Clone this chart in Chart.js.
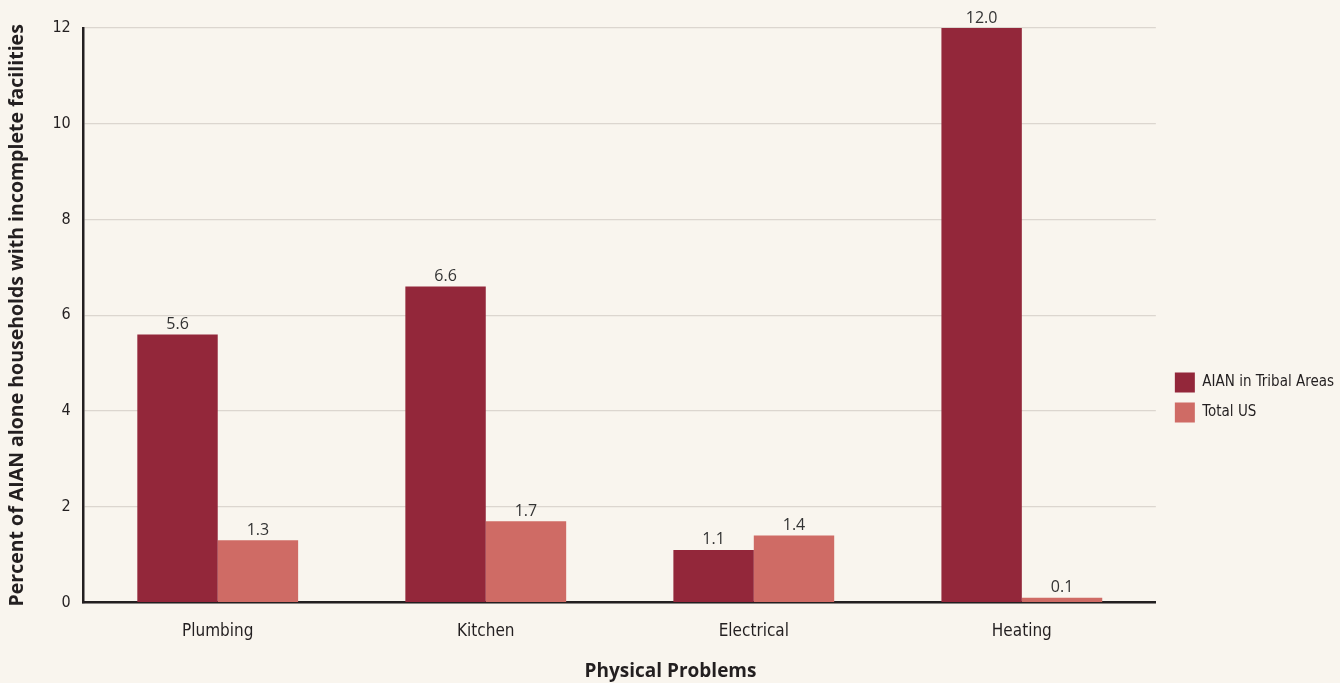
<!DOCTYPE html>
<html>
<head>
<meta charset="utf-8">
<script src="https://cdn.jsdelivr.net/npm/chart.js@4"></script>
<style>
  html, body { margin: 0; padding: 0; background: #f9f5ee; }
  #wrap { width: 1340px; height: 683px; }
</style>
</head>
<body>
<div id="wrap"><canvas id="c"></canvas></div>
<script>
const categories = ['Plumbing', 'Kitchen', 'Electrical', 'Heating'];
const aianTribal = [5.6, 6.6, 1.1, 12.0];
const totalUS = [1.3, 1.7, 1.4, 0.1];
const yTicks = [0, 2, 4, 6, 8, 10, 12];

const narrow = '"Liberation Sans Narrow", "DejaVu Sans Condensed", sans-serif';
const ink = '#231f20';

// background fill
const bgPlugin = {
  id: 'bg',
  beforeDraw(chart) {
    const ctx = chart.ctx;
    ctx.save();
    ctx.fillStyle = '#f9f5ee';
    ctx.fillRect(0, 0, chart.width, chart.height);
    ctx.restore();
  }
};

// move legend down a bit, like the original
const legendShift = {
  id: 'legendShift',
  afterUpdate(chart) {
    const lg = chart.legend;
    if (!lg) return;
    const dy = 42, dx = 9;
    lg.top += dy; lg.bottom += dy;
    lg.left += dx; lg.right += dx;
    lg.adjustHitBoxes();
  }
};

// value labels above each bar
const valueLabels = {
  id: 'valueLabels',
  afterDatasetsDraw(chart) {
    const ctx = chart.ctx;
    ctx.save();
    ctx.font = '16px "Open Sans", sans-serif';
    ctx.fillStyle = '#333333';
    ctx.textAlign = 'center';
    ctx.textBaseline = 'bottom';
    chart.data.datasets.forEach((ds, i) => {
      chart.getDatasetMeta(i).data.forEach((bar, j) => {
        ctx.fillText(ds.data[j].toFixed(1), bar.x, bar.y - 2);
      });
    });
    ctx.restore();
  }
};

new Chart(document.getElementById('c'), {
  type: 'bar',
  data: {
    labels: categories,
    datasets: [
      { label: 'AIAN in Tribal Areas', data: aianTribal, backgroundColor: '#93273a' },
      { label: 'Total US', data: totalUS, backgroundColor: '#cf6b65' }
    ]
  },
  options: {
    responsive: true,
    maintainAspectRatio: false,
    animation: false,
    categoryPercentage: 0.6,
    barPercentage: 1.0,
    layout: { padding: { top: 28, left: 6, right: 5, bottom: 0 } },
    scales: {
      x: {
        grid: { display: false, drawTicks: false },
        border: { color: ink, width: 2.5 },
        ticks: { color: ink, font: { family: narrow, size: 17 }, padding: 19 }
      },
      y: {
        min: 0,
        max: 12,
        afterBuildTicks(axis) { axis.ticks = yTicks.map(v => ({ value: v })); },
        grid: { color: '#dcd6cf', lineWidth: 1.2, drawTicks: false },
        border: { color: ink, width: 2.5 },
        ticks: { color: ink, font: { family: narrow, size: 16 }, padding: 13 },
        title: {
          display: true,
          text: 'Percent of AIAN alone households with incomplete facilities',
          color: ink,
          font: { family: '"Open Sans", sans-serif', size: 19.5, weight: 'bold' },
          padding: { top: 0, bottom: 10 }
        }
      }
    },
    plugins: {
      legend: {
        position: 'right',
        labels: {
          color: ink,
          font: { family: narrow, size: 15 },
          boxWidth: 20,
          boxHeight: 20,
          padding: 10
        }
      },
      title: {
        display: true,
        position: 'bottom',
        text: 'Physical Problems',
        color: ink,
        font: { family: '"Open Sans", sans-serif', size: 19, weight: 'bold', lineHeight: 1.0 },
        padding: { top: 1, bottom: 2 }
      },
      tooltip: { enabled: false }
    }
  },
  plugins: [bgPlugin, legendShift, valueLabels]
});
</script>
</body>
</html>
